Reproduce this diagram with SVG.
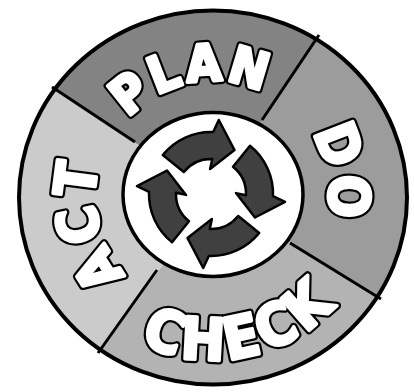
<svg xmlns="http://www.w3.org/2000/svg" width="414" height="392" viewBox="0 0 414 392">
<defs>
<style>
.lbl{font-family:"DejaVu Sans Condensed","DejaVu Sans",sans-serif;font-weight:bold;text-anchor:middle;stroke-linejoin:round}
.outline{fill:#000;stroke:#000;stroke-width:8}
.face{fill:#fff;stroke:#fff;stroke-width:3.5}
.div{stroke:#000;stroke-width:3;fill:none}
.arrow{fill:#404040;stroke:#000;stroke-width:2.5;stroke-linejoin:round}
</style>
<clipPath id="disc"><ellipse cx="213" cy="197.5" rx="194" ry="187"/></clipPath>
<path id="pPlan" d="M 99 195 A 114 114 0 0 1 327 195"/>
<path id="pDo" d="M 213 79 A 116 116 0 0 1 213 311"/>
<path id="pCheck" d="M 48 195 A 165 165 0 0 0 378 195"/>
<path id="pAct" d="M 213 313 A 118 118 0 0 1 213 77"/>
<path id="arr" d="M -48.2 -39 A 62 62 0 0 1 2.2 -62 L 7.8 -74 L 23.5 -44 L -0.9 -25 L 1.3 -35 A 35 35 0 0 0 -27.2 -22 Z"/>
<text id="tPlan" class="lbl" font-size="51" letter-spacing="3"><textPath href="#pPlan" startOffset="44.2%">PLAN</textPath></text>
<text id="tDo" class="lbl" font-size="56" letter-spacing="3"><textPath href="#pDo" startOffset="44.5%">DO</textPath></text>
<text id="tCheck" class="lbl" font-size="58" letter-spacing="4"><textPath href="#pCheck" startOffset="56.4%">CHECK</textPath></text>
<text id="tAct" class="lbl" font-size="56" letter-spacing="4"><textPath href="#pAct" startOffset="42.8%">ACT</textPath></text>
</defs>
<rect width="414" height="392" fill="#fff"/>
<g clip-path="url(#disc)">
<g id="plan"><polygon points="213,195 -99,-14 -100,-300 500,-300 427,-126" fill="#838383"/></g>
<g id="do"><polygon points="213,195 427,-126 700,-126 700,408 557,408" fill="#9c9c9c"/></g>
<g id="check"><polygon points="213,195 557,408 557,600 -14,600 -14,510" fill="#b3b3b3"/></g>
<g id="act"><polygon points="213,195 -14,510 -200,510 -200,-14 -99,-14" fill="#cbcbcb"/></g>
</g>
<g id="connectors">
<line class="div" x1="135" y1="142" x2="52" y2="87"/>
<line class="div" x1="262" y1="120" x2="319" y2="35"/>
<line class="div" x1="290" y1="243" x2="381" y2="299"/>
<line class="div" x1="157" y1="270" x2="98" y2="353"/>
</g>
<g id="labels">
<use href="#tPlan" class="outline"/><use href="#tPlan" class="face"/>
<use href="#tDo" class="outline"/><use href="#tDo" class="face"/>
<use href="#tCheck" class="outline"/><use href="#tCheck" class="face"/>
<use href="#tAct" class="outline"/><use href="#tAct" class="face"/>
</g>
<g id="center">
<ellipse cx="213" cy="194.5" rx="90" ry="82" fill="#fff" stroke="#000" stroke-width="3.5"/>
<g transform="translate(211 194)">
<use href="#arr" class="arrow"/>
<use href="#arr" class="arrow" transform="rotate(90)"/>
<use href="#arr" class="arrow" transform="rotate(180)"/>
<use href="#arr" class="arrow" transform="rotate(270)"/>
</g>
</g>
<ellipse cx="213" cy="197.5" rx="194" ry="187" fill="none" stroke="#000" stroke-width="4"/>
</svg>
